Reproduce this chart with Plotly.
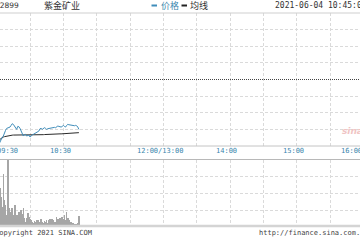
import plotly.graph_objects as go

# ---------------- data ----------------
ticker = "02899"
stock_name = "紫金矿业"
legend_price = "价格"
legend_avg = "均线"
date_label = "2021-06-04 10:45:00"
copyright_text = "Copyright 2021 SINA.COM"
url_text = "http://finance.sina.com.cn"

prev_close = 11.30

# one value per trading minute starting 09:30
price = [11.105, 11.102, 11.105, 11.114, 11.120, 11.126, 11.130, 11.141, 11.147, 11.153,
         11.155, 11.156, 11.157, 11.162, 11.167, 11.165, 11.159, 11.155, 11.150, 11.159,
         11.158, 11.153, 11.144, 11.138, 11.130, 11.134, 11.135, 11.130, 11.132, 11.133,
         11.127, 11.131, 11.133, 11.135, 11.137, 11.138, 11.140, 11.143, 11.145, 11.152,
         11.153, 11.150, 11.153, 11.155, 11.153, 11.150, 11.152, 11.153, 11.153, 11.155,
         11.156, 11.157, 11.156, 11.155, 11.158, 11.160, 11.159, 11.158, 11.157, 11.159,
         11.162, 11.159, 11.157, 11.162, 11.165, 11.164, 11.163, 11.162, 11.161, 11.160,
         11.161, 11.162, 11.161, 11.157, 11.150]

avg_price = [11.1170, 11.1170, 11.1185, 11.1200, 11.1230, 11.1251, 11.1269, 11.1281, 11.1290, 11.1299,
             11.1305, 11.1314, 11.1320, 11.1323, 11.1326, 11.1329, 11.1329, 11.1329, 11.1329, 11.1329,
             11.1326, 11.1326, 11.1323, 11.1320, 11.1320, 11.1320, 11.1320, 11.1320, 11.1320, 11.1320,
             11.1320, 11.1320, 11.1320, 11.1320, 11.1320, 11.1323, 11.1323, 11.1326, 11.1329, 11.1332,
             11.1335, 11.1338, 11.1341, 11.1344, 11.1347, 11.1347, 11.1350, 11.1350, 11.1350, 11.1353,
             11.1353, 11.1356, 11.1356, 11.1359, 11.1359, 11.1362, 11.1362, 11.1365, 11.1365, 11.1368,
             11.1368, 11.1371, 11.1371, 11.1371, 11.1374, 11.1377, 11.1380, 11.1383, 11.1386, 11.1389,
             11.1392, 11.1395, 11.1395, 11.1398, 11.1401]

volume = [600, 350, 240, 117, 90, 60, 159, 81, 66, 36,
          210, 57, 42, 45, 57, 36, 66, 66, 36, 36,
          45, 36, 51, 39, 57, 27, 15, 27, 42, 30,
          24, 21, 15, 12, 18, 15, 21, 21, 12, 15,
          24, 15, 12, 18, 15, 21, 12, 21, 24, 15,
          24, 21, 15, 15, 30, 24, 21, 27, 18, 30,
          24, 36, 21, 45, 27, 21, 15, 15, 12, 12,
          9, 9, 9, 12, 33]

tick_labels = ["09:30", "10:30", "12:00/13:00", "14:00", "15:00", "16:00"]
tick_minutes = [0, 60, 150, 210, 270, 330]

# ---------------- layout constants ----------------
W, H = 360, 240
X0, X1 = 3, 327           # visible trading-minute window
PRICE_RANGE = [11.10, 11.50]
PRICE_GRID = [11.15, 11.20, 11.25, 11.35, 11.40, 11.45]
VOL_RANGE = [0, 200]
VOL_GRID = [50, 100, 150]


def py(pix):  # pixel row -> paper y
    return (H - pix) / H


def px(pix):  # pixel col -> paper x
    return pix / W


minutes = list(range(len(price)))
grid_minutes = list(range(30, 301, 30))

fig = go.Figure()
fig.add_trace(go.Bar(x=minutes, y=volume, xaxis="x2", yaxis="y2",
                     marker=dict(color="#a6a6a6", line_width=0), width=0.6))
fig.add_trace(go.Scatter(x=minutes, y=avg_price, mode="lines", xaxis="x", yaxis="y",
                         line=dict(color="#2a2a2a", width=1)))
fig.add_trace(go.Scatter(x=minutes, y=price, mode="lines", xaxis="x", yaxis="y",
                         line=dict(color="#3f8dba", width=1)))

grid = dict(showgrid=True, gridcolor="#dadada", griddash="3px,2px", gridwidth=1,
            zeroline=False, showticklabels=False, ticks="", showline=False)

fig.update_layout(
    width=W, height=H, margin=dict(l=0, r=0, t=0, b=0),
    paper_bgcolor="white", plot_bgcolor="white", showlegend=False, bargap=0,
    xaxis=dict(domain=[0, 1], range=[X0, X1], tickvals=grid_minutes, anchor="y", **grid),
    yaxis=dict(domain=[py(146), py(13)], range=PRICE_RANGE, tickvals=PRICE_GRID, anchor="x", **grid),
    xaxis2=dict(domain=[0, 1], range=[X0, X1], tickvals=grid_minutes, anchor="y2", **grid),
    yaxis2=dict(domain=[py(227), py(160)], range=VOL_RANGE, tickvals=VOL_GRID, anchor="x2", **grid),
)

shapes = [
    dict(type="line", xref="x", yref="y", x0=X0, x1=X1, y0=prev_close, y1=prev_close,
         line=dict(color="#444", width=1, dash="1px,1px")),
    dict(type="line", xref="paper", yref="paper", x0=0, x1=1, y0=py(13), y1=py(13),
         line=dict(color="#cfcfcf", width=1)),
    dict(type="line", xref="paper", yref="paper", x0=0, x1=1, y0=py(146), y1=py(146),
         line=dict(color="#c4c4c4", width=1)),
    dict(type="line", xref="paper", yref="paper", x0=0, x1=1, y0=py(159.5), y1=py(159.5),
         line=dict(color="#b8b8b8", width=1)),
    dict(type="line", xref="paper", yref="paper", x0=0, x1=1, y0=py(226), y1=py(226),
         line=dict(color="#d4d4d4", width=2.5)),
    # legend keys
    dict(type="line", xref="paper", yref="paper", x0=px(151.5), x1=px(157), y0=py(5.5), y1=py(5.5),
         line=dict(color="#3f8dba", width=2)),
    dict(type="line", xref="paper", yref="paper", x0=px(181.5), x1=px(187), y0=py(5.5), y1=py(5.5),
         line=dict(color="#222", width=2)),
]
fig.update_layout(shapes=shapes)

mono = "DejaVu Sans Mono"
cjk = "Noto Sans CJK SC"
ann = []
# time labels: first left-aligned, last right-aligned, others centred just left of the grid line
span = X1 - X0
last = len(tick_labels) - 1
for i, (lab, m) in enumerate(zip(tick_labels, tick_minutes)):
    xp = (m - X0) / span
    if i == 0:
        anchor, shift = "left", -2
    elif i == last:
        anchor, shift = "right", 1
    else:
        anchor, shift = "center", -3
    ann.append(dict(x=xp, y=py(151), xref="paper", yref="paper", text=lab, showarrow=False,
                    xanchor=anchor, yanchor="middle", xshift=shift,
                    font=dict(family=mono, size=7, color="#3a86ad")))
# header
ann.append(dict(x=px(-7), y=py(5.5), xref="paper", yref="paper", text=ticker, showarrow=False,
                xanchor="left", yanchor="middle", font=dict(family="DejaVu Sans", size=7.5, color="#333")))
ann.append(dict(x=px(42), y=py(5.5), xref="paper", yref="paper", text=stock_name, showarrow=False,
                xanchor="left", yanchor="middle", font=dict(family=cjk, size=9, color="#333")))
ann.append(dict(x=px(158.5), y=py(5.5), xref="paper", yref="paper", text=legend_price, showarrow=False,
                xanchor="left", yanchor="middle", font=dict(family=cjk, size=9, color="#3a86ad")))
ann.append(dict(x=px(187.5), y=py(5.5), xref="paper", yref="paper", text=legend_avg, showarrow=False,
                xanchor="left", yanchor="middle", font=dict(family=cjk, size=9, color="#333")))
ann.append(dict(x=px(273), y=py(5.5), xref="paper", yref="paper", text=date_label, showarrow=False,
                xanchor="left", yanchor="middle", font=dict(family=mono, size=8, color="#333")))
# footer
ann.append(dict(x=px(-7), y=py(233), xref="paper", yref="paper", text=copyright_text, showarrow=False,
                xanchor="left", yanchor="middle", font=dict(family=mono, size=7, color="#444")))
ann.append(dict(x=px(257), y=py(233), xref="paper", yref="paper", text=url_text, showarrow=False,
                xanchor="left", yanchor="middle", font=dict(family=mono, size=7, color="#444")))
# watermark
ann.append(dict(x=px(340), y=py(131), xref="paper", yref="paper", text="<b><i>sina</i></b>",
                showarrow=False, xanchor="left", yanchor="middle",
                font=dict(family="DejaVu Sans", size=9, color="#f0c4c4")))
fig.update_layout(annotations=ann)

fig.write_html("out.html")
